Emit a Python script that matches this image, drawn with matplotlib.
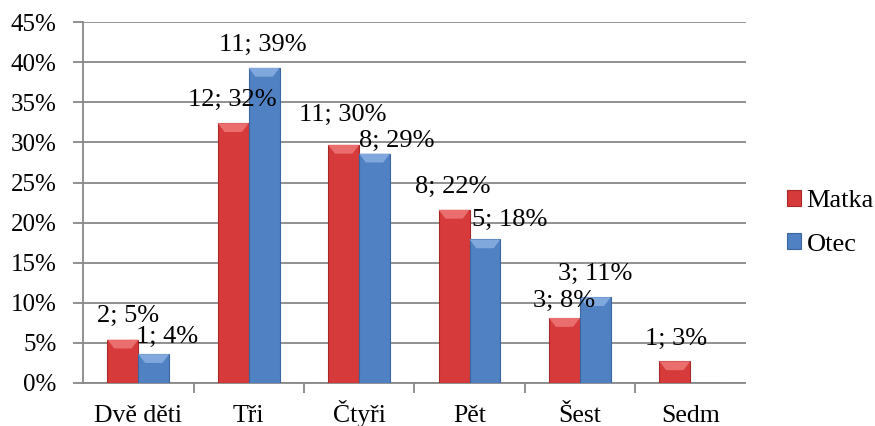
import matplotlib
matplotlib.use("Agg")
import matplotlib.pyplot as plt
import numpy as np

plt.rcParams['font.family'] = ['Liberation Serif', 'DejaVu Serif']

# data
categories = ['Dvě děti', 'Tři', 'Čtyři', 'Pět', 'Šest', 'Sedm']
matka_n = [2, 12, 11, 8, 3, 1]
matka_pct = [5.4, 32.4, 29.7, 21.6, 8.1, 2.7]
otec_n = [1, 11, 8, 5, 3, 0]
otec_pct = [3.6, 39.3, 28.6, 17.9, 10.7, 0.0]

# label nudges in pixels (dx, gap above bar), as placed in the original
matka_off = [(5, 18), (-1, 17), (-1, 24), (-1, 17), (0, 11), (1, 16)]
otec_off = [(13, 11), (-1, 17), (22, 7), (25, 13), (0, 17), (0, 0)]

red = '#D63A3A'
blue = '#4F81C3'
grey = '#888888'

fig = plt.figure(figsize=(8.75, 4.26), dpi=100)
ax = fig.add_axes([0.095, 0.101, 0.757, 0.847])

x = np.arange(len(categories))
w = 0.28

def bevel(bars, light):
    # lighter chamfer on the top of each bar
    for b in bars:
        if b.get_height() <= 0:
            continue
        bx, bw, top = b.get_x(), b.get_width(), b.get_y() + b.get_height()
        d = min(1.1, b.get_height() / 2)
        dx = bw * 0.22
        ax.add_patch(plt.Polygon([[bx, top], [bx + bw, top], [bx + bw - dx, top - d], [bx + dx, top - d]],
                                 closed=True, facecolor=light, edgecolor='none', zorder=4))

b1 = ax.bar(x - w / 2, matka_pct, w, color=red, edgecolor='#A82828', linewidth=0.8, zorder=3, label='Matka')
b2 = ax.bar(x + w / 2, otec_pct, w, color=blue, edgecolor='#3A679F', linewidth=0.8, zorder=3, label='Otec')
bevel(b1, '#EB6E6E')
bevel(b2, '#80A8DC')

px = 72 / fig.dpi
for bars, ns, ps, offs in [(b1, matka_n, matka_pct, matka_off), (b2, otec_n, otec_pct, otec_off)]:
    for b, n, p, (dx, dy) in zip(bars, ns, ps, offs):
        if n == 0:
            continue
        ax.annotate(f'{n}; {round(p):.0f}%', (b.get_x() + b.get_width() / 2, b.get_height()),
                    xytext=(dx * px, dy * px), textcoords='offset points', ha='center', va='baseline',
                    fontsize=19, zorder=6)

ax.set_ylim(0, 45)
ax.set_xlim(-0.5, len(categories) - 0.5)
ax.set_yticks(np.arange(0, 46, 5))
ax.set_yticklabels([f'{v}%' for v in range(0, 46, 5)], fontsize=18)
ax.yaxis.grid(True, color=grey, linewidth=1.3, zorder=0)
ax.set_axisbelow(True)

ax.set_xticks(x)
ax.set_xticklabels(categories, fontsize=18.5, va='baseline')
ax.tick_params(axis='x', length=0, pad=28)
ax.set_xticks(np.arange(0.5, len(categories) - 1, 1), minor=True)
ax.tick_params(axis='x', which='minor', length=7, color=grey, width=1.3)
ax.tick_params(axis='y', length=7, color=grey, width=1.3, pad=12)

for s in ['top', 'right']:
    ax.spines[s].set_visible(False)
for s in ['left', 'bottom']:
    ax.spines[s].set_color(grey)
    ax.spines[s].set_linewidth(1.3)

leg = fig.legend(handles=[b1, b2], labels=['Matka', 'Otec'], loc='center left',
                 bbox_to_anchor=(0.899, 0.477), frameon=False, fontsize=19,
                 borderpad=0, borderaxespad=0,
                 handlelength=0.55, handleheight=0.55, handletextpad=0.2, labelspacing=0.8)

fig.savefig('out.png', dpi=100)
